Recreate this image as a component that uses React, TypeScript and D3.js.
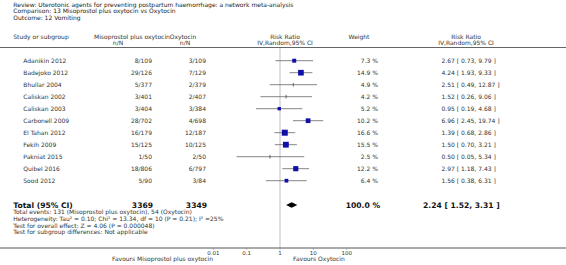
import React from "react";
import * as d3 from "d3";

const titleLines = [
  "Review:  Uterotonic agents for preventing postpartum haemorrhage: a network meta-analysis",
  "Comparison:  13 Misoprostol plus oxytocin vs Oxytocin",
  "Outcome:  12 Vomiting",
];
const studies = [
  "Adanikin 2012", "Badejoko 2012", "Bhullar 2004", "Caliskan 2002", "Caliskan 2003",
  "Carbonell 2009", "El Tahan 2012", "Fekih 2009", "Pakniat 2015", "Quibel 2016", "Sood 2012",
];
const expEvents = ["8/109", "29/126", "5/377", "3/401", "3/404", "28/702", "16/179", "15/125", "1/50", "18/806", "5/90"];
const ctlEvents = ["3/109", "7/129", "2/379", "2/407", "3/384", "4/698", "12/187", "10/125", "2/50", "6/797", "3/84"];
const weights = [7.3, 14.9, 4.9, 4.2, 5.2, 10.2, 16.6, 15.5, 2.5, 12.2, 6.4];
const rr = [2.67, 4.24, 2.51, 1.52, 0.95, 6.96, 1.39, 1.5, 0.5, 2.97, 1.56];
const lo = [0.73, 1.93, 0.49, 0.26, 0.19, 2.45, 0.68, 0.7, 0.05, 1.18, 0.38];
const hi = [9.79, 9.33, 12.87, 9.06, 4.68, 19.74, 2.86, 3.21, 5.34, 7.43, 6.31];
const totalExpN = "3369";
const totalCtlN = "3349";
const totalWeight = "100.0 %";
const totalRR = 2.24;
const totalLo = 1.52;
const totalHi = 3.31;
const footerLines = [
  "Total events: 131 (Misoprostol plus oxytocin), 54 (Oxytocin)",
  "Heterogeneity: Tau\u00b2 = 0.10; Chi\u00b2 = 13.34, df = 10 (P = 0.21); I\u00b2 =25%",
  "Test for overall effect: Z = 4.06 (P = 0.000048)",
  "Test for subgroup differences: Not applicable",
];
const axisTicks = [0.01, 0.1, 1, 10, 100];
const tickLabels = ["0.01", "0.1", "1", "10", "100"];

const fmt = (v: number) => v.toFixed(2);

export default function App() {
  const W = 566, H = 265;
  const x = d3.scaleLog().domain([0.01, 100]).range([213.3, 346.7]);
  const y = d3.scaleLinear().domain([0, 10]).range([60.7, 180.7]);
  const size = d3.scaleSqrt().domain([0, 16.6]).range([0, 6]);
  const font = "'DejaVu Sans', Verdana, sans-serif";
  const txt = "#333";
  const totalY = 205;
  const axisY = 248;

  return (
    <svg width={W} height={H} style={{ position: "absolute", left: 0, top: 0, background: "#fff" }} fontFamily={font}>
      {titleLines.map((t, i) => (
        <text key={i} x={13.3} y={6.5 + i * 6.6} fontSize={6} fill="#222">{t}</text>
      ))}
      {/* headers */}
      <g fontSize={6} fill={txt}>
        <text x={13.3} y={39}>Study or subgroup</text>
        <text x={94} y={39}>Misoprostol plus oxytocin</text>
        <text x={183} y={39} textAnchor="middle">Oxytocin</text>
        <text x={118} y={45} textAnchor="middle">n/N</text>
        <text x={185} y={45} textAnchor="middle">n/N</text>
        <text x={285} y={39} textAnchor="middle">Risk Ratio</text>
        <text x={285} y={45} textAnchor="middle">IV,Random,95% CI</text>
        <text x={359} y={39} textAnchor="middle">Weight</text>
        <text x={466} y={39} textAnchor="middle">Risk Ratio</text>
        <text x={466} y={45} textAnchor="middle">IV,Random,95% CI</text>
      </g>
      <line x1={0} x2={W} y1={47.5} y2={47.5} stroke="#666" strokeWidth={1.2} />
      {/* null line */}
      <line x1={x(1)} x2={x(1)} y1={48} y2={axisY} stroke="#d4d4d4" strokeWidth={1.5} />
      {studies.map((s, i) => {
        const cy = y(i);
        const sz = size(weights[i]);
        return (
          <g key={s}>
            <text x={23.3} y={cy + 2.2} fontSize={6} fill={txt}>{s}</text>
            <text x={152} y={cy + 2.2} fontSize={6} fill={txt} textAnchor="end">{expEvents[i]}</text>
            <text x={206} y={cy + 2.2} fontSize={6} fill={txt} textAnchor="end">{ctlEvents[i]}</text>
            <line x1={x(lo[i])} x2={x(hi[i])} y1={cy} y2={cy} stroke="#666" strokeWidth={0.8} />
            {weights[i] < 5 ? (
              <line x1={x(rr[i])} x2={x(rr[i])} y1={cy - 1.8} y2={cy + 1.8} stroke="#444" strokeWidth={0.8} />
            ) : (
              <rect x={x(rr[i]) - sz / 2} y={cy - sz / 2} width={sz} height={sz} fill="#1010a8" />
            )}
            <text x={378} y={cy + 2.2} fontSize={6} fill={txt} textAnchor="end">{weights[i].toFixed(1)} %</text>
            <text x={441.5} y={cy + 2.2} fontSize={6} fill={txt}>{`${fmt(rr[i])} [ ${fmt(lo[i])}, ${fmt(hi[i])} ]`}</text>
          </g>
        );
      })}
      {/* total */}
      <g fontSize={7.6} fontWeight="bold" fill="#111">
        <text x={13.3} y={totalY + 2.6}>Total (95% CI)</text>
        <text x={153} y={totalY + 2.6} textAnchor="end">{totalExpN}</text>
        <text x={207} y={totalY + 2.6} textAnchor="end">{totalCtlN}</text>
        <text x={380} y={totalY + 2.6} textAnchor="end">{totalWeight}</text>
        <text x={423} y={totalY + 2.6}>{`${fmt(totalRR)} [ ${fmt(totalLo)}, ${fmt(totalHi)} ]`}</text>
      </g>
      <path
        d={`M${x(totalLo)},${totalY} L${x(totalRR)},${totalY - 2.8} L${x(totalHi)},${totalY} L${x(totalRR)},${totalY + 2.8} Z`}
        fill="#000"
      />
      {footerLines.map((t, i) => (
        <text key={i} x={13.3} y={214.4 + i * 6.6} fontSize={6} fill={txt}>{t}</text>
      ))}
      {/* axis */}
      <line x1={0} x2={W} y1={axisY} y2={axisY} stroke="#555" strokeWidth={1} />
      {axisTicks.map((t, i) => (
        <g key={t}>
          <line x1={x(t)} x2={x(t)} y1={axisY} y2={axisY + 1.8} stroke="#888" strokeWidth={0.6} />
          <text x={x(t)} y={axisY + 6.5} fontSize={5.5} fill={txt} textAnchor="middle">{tickLabels[i]}</text>
        </g>
      ))}
      <text x={213} y={261} fontSize={6} fill={txt} textAnchor="end">Favours Misoprostol plus oxytocin</text>
      <text x={293} y={261} fontSize={6} fill={txt}>Favours Oxytocin</text>
    </svg>
  );
}
